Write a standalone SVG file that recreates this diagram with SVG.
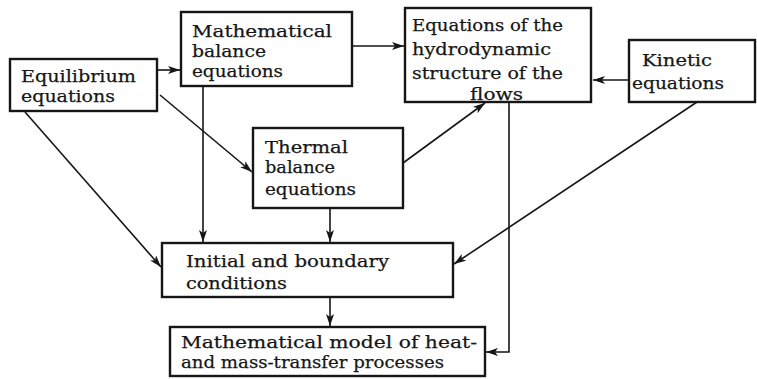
<svg xmlns="http://www.w3.org/2000/svg" width="757" height="379" viewBox="0 0 757 379">
<style>
.box{fill:#fff;stroke:#161616;stroke-width:2.4}
.t{font-family:"DejaVu Serif","Liberation Serif",serif;font-size:17.5px;fill:#161616;stroke:#161616;stroke-width:0.25}
.c{fill:none;stroke:#161616;stroke-width:1.6}
</style>
<defs>
<marker id="ah" markerUnits="userSpaceOnUse" markerWidth="14" markerHeight="10" refX="12" refY="4" orient="auto">
<path d="M0,0 L12,4 L0,8 L3,4 Z" fill="#161616"/>
</marker>
</defs>
<rect width="757" height="379" fill="#fff"/>
<g id="connectors">
<path class="c" d="M157,70 L180,70" marker-end="url(#ah)"/>
<path class="c" d="M353,46 L404,46" marker-end="url(#ah)"/>
<path class="c" d="M629,80 L593,80" marker-end="url(#ah)"/>
<path class="c" d="M160,95 L252,172" marker-end="url(#ah)"/>
<path class="c" d="M25,112 L161,267" marker-end="url(#ah)"/>
<path class="c" d="M203,86 L203,242" marker-end="url(#ah)"/>
<path class="c" d="M330,208 L330,242" marker-end="url(#ah)"/>
<path class="c" d="M403,163 L485,103" marker-end="url(#ah)"/>
<path class="c" d="M509,102 L509,352 L486,352" marker-end="url(#ah)"/>
<path class="c" d="M697,102 L454,264" marker-end="url(#ah)"/>
<path class="c" d="M330,297 L330,326" marker-end="url(#ah)"/>
</g>
<g id="equilibrium">
<rect class="box" x="10" y="59" width="147" height="52"/>
<text class="t" x="21" y="82" textLength="115" lengthAdjust="spacingAndGlyphs">Equilibrium</text>
<text class="t" x="21" y="102" textLength="94" lengthAdjust="spacingAndGlyphs">equations</text>
</g>
<g id="math-balance">
<rect class="box" x="181" y="12" width="171" height="74"/>
<text class="t" x="192" y="37" textLength="140" lengthAdjust="spacingAndGlyphs">Mathematical</text>
<text class="t" x="192" y="57" textLength="74" lengthAdjust="spacingAndGlyphs">balance</text>
<text class="t" x="192" y="77" textLength="91" lengthAdjust="spacingAndGlyphs">equations</text>
</g>
<g id="hydrodynamic">
<rect class="box" x="405" y="8" width="186" height="94"/>
<text class="t" x="412" y="31" textLength="151" lengthAdjust="spacingAndGlyphs">Equations of the</text>
<text class="t" x="412" y="55" textLength="139" lengthAdjust="spacingAndGlyphs">hydrodynamic</text>
<text class="t" x="412" y="79" textLength="151" lengthAdjust="spacingAndGlyphs">structure of the</text>
<text class="t" x="470" y="100" textLength="53" lengthAdjust="spacingAndGlyphs">flows</text>
</g>
<g id="kinetic">
<rect class="box" x="629" y="40" width="126" height="62"/>
<text class="t" x="642" y="66" textLength="70" lengthAdjust="spacingAndGlyphs">Kinetic</text>
<text class="t" x="632" y="89" textLength="92" lengthAdjust="spacingAndGlyphs">equations</text>
</g>
<g id="thermal">
<rect class="box" x="253" y="128" width="150" height="80"/>
<text class="t" x="265" y="153" textLength="83" lengthAdjust="spacingAndGlyphs">Thermal</text>
<text class="t" x="265" y="173" textLength="70" lengthAdjust="spacingAndGlyphs">balance</text>
<text class="t" x="265" y="195" textLength="91" lengthAdjust="spacingAndGlyphs">equations</text>
</g>
<g id="initial">
<rect class="box" x="162" y="243" width="291" height="54"/>
<text class="t" x="186" y="267" textLength="203" lengthAdjust="spacingAndGlyphs">Initial and boundary</text>
<text class="t" x="186" y="289" textLength="101" lengthAdjust="spacingAndGlyphs">conditions</text>
</g>
<g id="model">
<rect class="box" x="170" y="327" width="315" height="49"/>
<text class="t" x="181" y="348" textLength="296" lengthAdjust="spacingAndGlyphs">Mathematical model of heat-</text>
<text class="t" x="181" y="368" textLength="263" lengthAdjust="spacingAndGlyphs">and mass-transfer processes</text>
</g>
</svg>
